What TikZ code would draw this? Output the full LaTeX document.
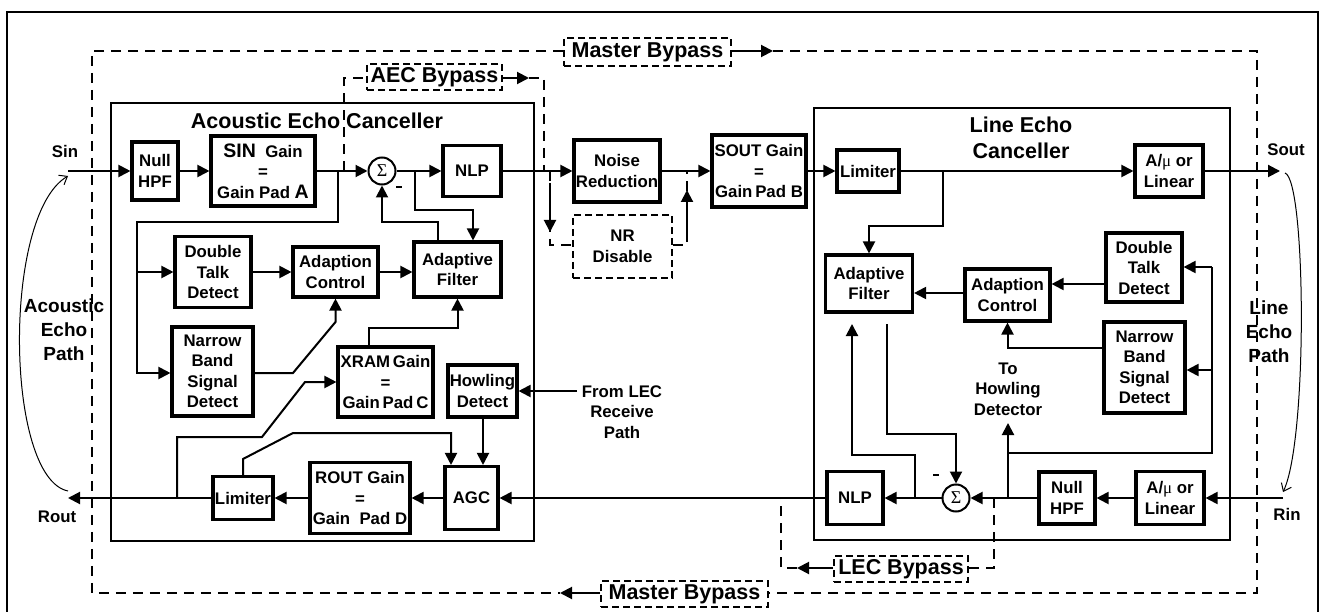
\documentclass[tikz,border=0pt]{standalone}
\usepackage{fontspec}
\setmainfont{Liberation Sans}
\newfontfamily\grfont{Liberation Serif}
\usetikzlibrary{arrows.meta}
\newcommand{\boxfnt}{\fontsize{16.8}{20.5}\selectfont\bfseries}
\newcommand{\ttlfnt}{\fontsize{21.5}{26}\selectfont\bfseries}
\newcommand{\pathfnt}{\fontsize{19}{24}\selectfont\bfseries}
\newcommand{\bigch}{\fontsize{19.5}{20}\selectfont}
\newcommand{\mug}{{\grfont\mdseries μ}}
\newcommand{\minusbar}{\rule[4pt]{6pt}{2.8pt}}
\tikzset{
  blk/.style={draw, line width=3.1pt, align=center, inner sep=0pt, font=\boxfnt},
  bigbox/.style={draw, line width=2.2pt, inner sep=0pt},
  con/.style={line width=2pt},
  arr/.style={line width=2pt, -{Triangle[length=12pt,width=12pt]}},
  byp/.style={line width=2pt, dash pattern=on 10pt off 7pt},
  bylab/.style={draw, line width=1.6pt, dash pattern=on 7pt off 4pt, inner sep=0pt, align=center, font=\ttlfnt},
  lbl/.style={align=center, inner sep=0pt, font=\boxfnt},
  sumc/.style={draw, circle, line width=2pt, minimum size=27pt, inner sep=0pt, font={\grfont\fontsize{18}{18}\selectfont}},
  echo/.style={line width=1pt, -{Straight Barb[length=7pt,width=11pt]}}
}
\begin{document}
\begin{tikzpicture}[x=1pt,y=-1pt]
\useasboundingbox (0,0) rectangle (1319,612);
% outer frame
\draw[line width=2pt] (7,612) -- (7,12) -- (1318,12) -- (1318,612);

% big boxes and titles
\node[bigbox, minimum width=423, minimum height=438] (aecbox) at (322.5,322) {};
\node[bigbox, minimum width=416, minimum height=432] (lecbox) at (1022,324) {};
\node[lbl, font=\ttlfnt] (aect) at (317,121) {Acoustic Echo Canceller};
\node[lbl, font=\ttlfnt] (lect) at (1021,138) {Line Echo\\Canceller};

% bypass labels
\node[bylab, minimum width=167, minimum height=28] (mbt) at (647.5,52) {Master Bypass};
\node[bylab, minimum width=167, minimum height=26] (mbb) at (684.5,594) {Master Bypass};
\node[bylab, minimum width=135, minimum height=26] (aecb) at (434.5,77) {AEC Bypass};
\node[bylab, minimum width=134, minimum height=26] (lecb) at (901,569) {LEC Bypass};
\node[bylab, font=\boxfnt, minimum width=99, minimum height=63] (nrd) at (622.5,246.5) {NR\\Disable};

% bypass paths
\coordinate (mbA) at (773,51);
\coordinate (mbB) at (560,593);
\draw[byp] (mbt.west |- 0,51) -- (92,51) -- (92,593) -- (mbB);
\draw[arr] (mbt.east |- 0,51) -- (mbA);
\draw[byp] (mbA) -- (1257,51) -- (1257,593) -- (mbb.east |- 0,593);
\draw[arr] (mbb.west |- 0,593) -- (mbB);

\coordinate (aecA) at (529,78);
\draw[byp] (344,171) -- (344,78) -- (aecb.west |- 0,78);
\draw[arr] (aecb.east |- 0,78) -- (aecA);
\draw[byp] (aecA) -- (544,78) -- (544,171);

\coordinate (lecA) at (797,568);
\draw[byp] (994,498) -- (994,568) -- (lecb.east |- 0,568);
\draw[arr] (lecb.west |- 0,568) -- (lecA);
\draw[byp] (lecA) -- (781,568) -- (781,498);

\draw[byp] (550,171) -- (550,245) -- (nrd.west |- 0,245);
\draw[byp] (nrd.east |- 0,245) -- (687,245) -- (687,171);
\draw[arr] (550,183) -- (550,232);
\draw[arr] (687,232) -- (687,190);

% ---------- AEC blocks ----------
\node[blk, minimum width=46, minimum height=58] (nhpf1) at (155,171) {Null\\HPF};
\node[blk, minimum width=104, minimum height=70] (sg1) at (263,171) {{\bigch SIN}\ \ Gain\\=\\Gain Pad {\bigch A}};
\node[sumc] (sum1) at (382,171) {Σ};
\node[blk, minimum width=58, minimum height=51] (nlp1) at (472,171) {NLP};
\node[blk, minimum width=76, minimum height=71] (dt1) at (213,272) {Double\\Talk\\Detect};
\node[blk, minimum width=85, minimum height=50] (ac1) at (335.5,272) {Adaption\\Control};
\node[blk, minimum width=87, minimum height=55] (af1) at (457.5,269.5) {Adaptive\\Filter};
\node[blk, minimum width=81, minimum height=89] (nb1) at (212.5,371.5) {Narrow\\Band\\Signal\\Detect};
\node[blk, minimum width=95, minimum height=70] (xg) at (385.5,382) {XRAM\,Gain\\=\\Gain\,Pad\,C};
\node[blk, minimum width=69, minimum height=52] (hd) at (482.5,391) {Howling\\Detect};
\node[blk, minimum width=53, minimum height=63] (agc) at (471.5,498) {AGC};
\node[blk, minimum width=100, minimum height=71] (rg) at (360,498) {ROUT Gain\\=\\Gain\ \ Pad D};
\node[blk, minimum width=60, minimum height=43] (lim1) at (243,498) {Limiter};

% ---------- middle ----------
\node[blk, minimum width=86, minimum height=62] (nr) at (617,171) {Noise\\Reduction};
\node[blk, minimum width=94, minimum height=72] (sg2) at (759,171) {SOUT Gain\\=\\Gain\,Pad B};

% ---------- LEC blocks ----------
\node[blk, minimum width=62, minimum height=42] (lim2) at (868,171) {Limiter};
\node[blk, minimum width=68, minimum height=52] (alin1) at (1169,171) {A/\mug\ or\\Linear};
\node[blk, minimum width=87, minimum height=57] (af2) at (869,283.5) {Adaptive\\Filter};
\node[blk, minimum width=85, minimum height=52] (ac2) at (1007.5,295) {Adaption\\Control};
\node[blk, minimum width=76, minimum height=69] (dt2) at (1144,267.5) {Double\\Talk\\Detect};
\node[blk, minimum width=81, minimum height=91] (nb2) at (1144.5,367.5) {Narrow\\Band\\Signal\\Detect};
\node[blk, minimum width=56, minimum height=53] (nlp2) at (855,498) {NLP};
\node[sumc] (sum2) at (956,498) {Σ};
\node[blk, minimum width=56, minimum height=52] (nhpf2) at (1067,498) {Null\\HPF};
\node[blk, minimum width=68, minimum height=53] (alin2) at (1170,498) {A/\mug\ or\\Linear};

% ---------- text labels ----------
\node[lbl] (sin) at (65,151) {Sin};
\node[lbl] (rout) at (57,517) {Rout};
\node[lbl] (sout) at (1286,150) {Sout};
\node[lbl] (rin) at (1287,514) {Rin};
\node[lbl, font=\pathfnt] (aep) at (64,330) {Acoustic\\Echo\\Path};
\node[lbl, font=\pathfnt] (lep) at (1269,332) {Line\\Echo\\Path};
\node[lbl] (toh) at (1008,389) {To\\Howling\\Detector};
\node[lbl] (flec) at (622,412) {From LEC\\Receive\\Path};
\node[lbl] (m1) at (399,189) {\minusbar};
\node[lbl] (m2) at (936,477) {\minusbar};

% ---------- coordinates for free ends ----------
\coordinate (sinL) at (68,171);
\coordinate (routL) at (68,498);
\coordinate (soutR) at (1280,171);
\coordinate (rinR) at (1283,498);
\coordinate (flecA) at (577,391);
\coordinate (tohA) at (1008,423);

% ---------- AEC connectors ----------
\draw[arr] (sinL) -- (nhpf1);
\draw[arr] (nhpf1) -- (sg1);
\draw[arr] (sg1) -- (sum1);
\draw[arr] (sum1) -- (nlp1);
\draw[arr] (nlp1) -- (nr);
\draw[arr] (338,171) -- (338,222) -- (137,222) |- (nb1.west |- 0,373);
\draw[arr] (137,272) -- (dt1.west |- 0,272);
\draw[arr] (dt1.east |- 0,272) -- (ac1.west |- 0,272);
\draw[arr] (ac1.east |- 0,272) -- (af1.west |- 0,272);
\draw[arr] (415,171) -- (415,210) -- (473,210) -- (af1.north -| 473,0);
\draw[arr] (af1.north -| 438,0) -- (438,222) -- (sum1.south |- 0,222) -- (sum1.south);
\draw[arr] (nb1.east |- 0,373) -- (293,373) -- (ac1.south |- 0,322) -- (ac1.south);
\draw[arr] (xg.north -| 369,0) -- (369,328) -- (af1.south |- 0,328) -- (af1.south);
\draw[arr] (177,498) -- (177,437) -- (262,437) -- (305,382) -- (xg.west);
\draw[arr] (lim1.north) -- (243,459) -- (293,433) -- (451,433) -- (agc.north -| 451,0);
\draw[arr] (hd.south -| 483,0) -- (agc.north -| 483,0);
\draw[arr] (flecA) -- (flecA -| hd.east);
\draw[arr] (nlp2) -- (agc);
\draw[arr] (agc) -- (rg);
\draw[arr] (rg) -- (lim1);
\draw[arr] (lim1) -- (routL);

% ---------- middle / LEC connectors ----------
\draw[arr] (nr) -- (sg2);
\draw[arr] (sg2) -- (lim2);
\draw[arr] (lim2) -- (alin1);
\draw[arr] (alin1) -- (soutR);
\draw[arr] (943,171) -- (943,226) -- (af2.north |- 0,226) -- (af2.north);
\draw[arr] (dt2.west |- 0,284) -- (ac2.east |- 0,284);
\draw[arr] (ac2.west |- 0,293) -- (af2.east |- 0,293);
\draw[arr] (nb2.west |- 0,348) -- (ac2.south |- 0,348) -- (ac2.south);
\draw[line width=1.6pt] (1008,453) -- (1212,453) -- (1212,267);
\draw[arr] (1212,267) -- (dt2.east |- 0,267);
\draw[arr] (1212,370) -- (nb2.east |- 0,370);
\draw[arr] (1008,498) -- (tohA);
\draw[arr] (887,324) -- (887,434) -- (sum2.north |- 0,434) -- (sum2.north);
\draw[arr] (915,498) -- (915,455) -- (852,455) -- (852,324);
\draw[arr] (rinR) -- (alin2);
\draw[arr] (alin2) -- (nhpf2);
\draw[arr] (nhpf2) -- (sum2);
\draw[arr] (sum2) -- (nlp2);

% ---------- echo paths ----------
\draw[echo] (68,491) .. controls (5,478) and (2,215) .. (sinL |- 0,176);
\draw[echo] (1285,173) .. controls (1306,180) and (1308,440) .. (rinR |- 0,492);
\end{tikzpicture}
\end{document}
